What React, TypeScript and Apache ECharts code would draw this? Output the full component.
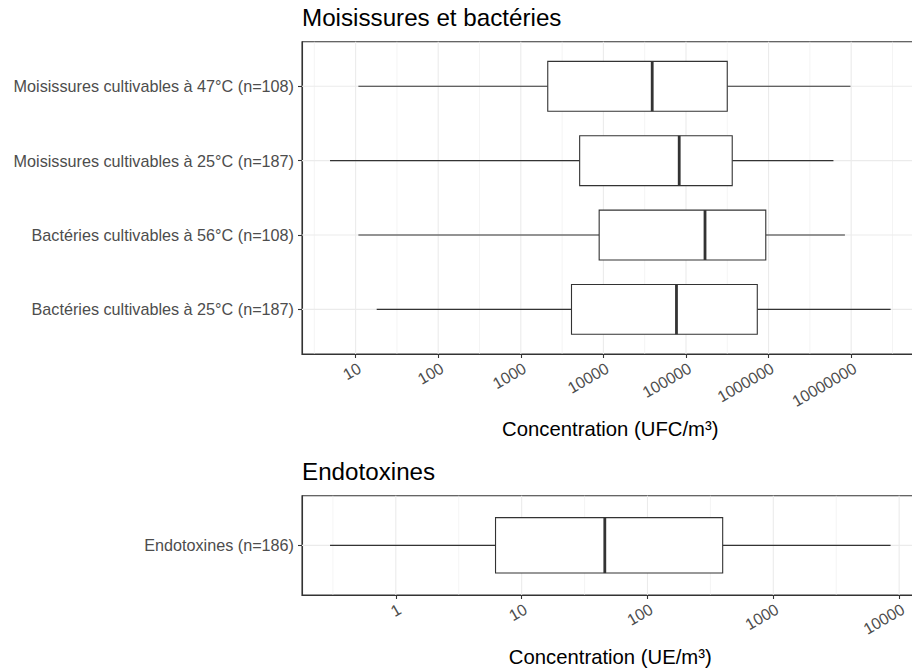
import React, { useEffect, useRef } from "react";
import * as echarts from "echarts";

// ---------- DATA ----------
const PANEL_TITLES = ["Moisissures et bactéries", "Endotoxines"];
const AXIS_TITLES = ["Concentration (UFC/m³)", "Concentration (UE/m³)"];

const TOP_CATEGORIES = [
  "Moisissures cultivables à 47°C (n=108)",
  "Moisissures cultivables à 25°C (n=187)",
  "Bactéries cultivables à 56°C (n=108)",
  "Bactéries cultivables à 25°C (n=187)",
];
const TOP_MIN = [10.8, 4.9, 10.8, 18];
const TOP_Q1 = [2120, 5160, 8890, 4110];
const TOP_MEDIAN = [39000, 82800, 170000, 76700];
const TOP_Q3 = [316000, 363000, 925000, 730000];
const TOP_MAX = [9.8e6, 6.1e6, 8.4e6, 3.0e7];
const TOP_TICKS = [10, 100, 1000, 10000, 100000, 1000000, 10000000];

const BOTTOM_CATEGORIES = ["Endotoxines (n=186)"];
const BOTTOM_MIN = [0.3];
const BOTTOM_Q1 = [6.2];
const BOTTOM_MEDIAN = [45.8];
const BOTTOM_Q3 = [396];
const BOTTOM_MAX = [8550];
const BOTTOM_TICKS = [1, 10, 100, 1000, 10000];

// ---------- STYLE ----------
const FONT = "'Liberation Sans', Arial, Helvetica, sans-serif";
const DARK = "#333333";
const GRID = "#EBEBEB";
const LABEL = "#4D4D4D";
const BOX_WIDTH = 0.67;
const TITLE_SIZE = 24.2;
const AXIS_TITLE_SIZE = 20.3;
const Y_LABEL_SIZE = 16.2;
const X_LABEL_SIZE = 16;

const lg = Math.log10;
const expand = (lo: number, hi: number) => {
  const d = hi - lo;
  return [lo - d * 0.05, hi + d * 0.05];
};

function buildPanel(
  gi: number,
  cats: string[],
  mins: number[],
  q1s: number[],
  meds: number[],
  q3s: number[],
  maxs: number[],
  ticks: number[],
  axisTitle: string,
  nameGap: number
) {
  const xExt = expand(lg(Math.min(...mins)), lg(Math.max(...maxs)));
  const yExt = [-0.6, cats.length - 1 + 0.6];
  const tickLogs = ticks.map((t) => lg(t));
  const minorLogs = [...tickLogs.map((v) => v - 0.5), tickLogs[tickLogs.length - 1] + 0.5].filter(
    (v) => v > xExt[0] && v < xExt[1]
  );
  const catIdx = cats.map((_, i) => i);

  const xAxis = {
    type: "value",
    gridIndex: gi,
    min: xExt[0],
    max: xExt[1],
    axisLine: { show: true, onZero: false, lineStyle: { color: DARK, width: 1.1 } },
    axisTick: { show: true, customValues: tickLogs, length: 4, lineStyle: { color: DARK, width: 1.1 } },
    axisLabel: {
      show: true,
      customValues: tickLogs,
      rotate: 30,
      align: "right",
      verticalAlign: "top",
      margin: 6,
      fontSize: X_LABEL_SIZE,
      color: LABEL,
      fontFamily: FONT,
      formatter: (v: number) => {
        const t = ticks.find((tt) => Math.abs(lg(tt) - v) < 1e-6);
        return t === undefined ? "" : String(t);
      },
    },
    splitLine: { show: false },
    minorSplitLine: { show: false },
    name: axisTitle,
    nameLocation: "middle",
    nameGap,
    nameTextStyle: { fontSize: AXIS_TITLE_SIZE, color: "#000", fontFamily: FONT },
  };

  const yAxis = {
    type: "value",
    gridIndex: gi,
    min: yExt[0],
    max: yExt[1],
    inverse: true,
    axisLine: { show: true, onZero: false, lineStyle: { color: DARK, width: 1.1 } },
    axisTick: { show: true, customValues: catIdx, length: 4, lineStyle: { color: DARK, width: 1.1 } },
    axisLabel: {
      show: true,
      customValues: catIdx,
      margin: 8,
      fontSize: Y_LABEL_SIZE,
      color: LABEL,
      fontFamily: FONT,
      formatter: (v: number) => cats[Math.round(v)] ?? "",
    },
    splitLine: { show: false },
  };

  const vLine = (width: number, values: number[], name: string) => ({
    type: "custom",
    name,
    xAxisIndex: gi,
    yAxisIndex: gi,
    silent: true,
    z: 1,
    encode: { x: 0, y: 1 },
    data: values.map((v) => [v, 0]),
    renderItem: (_p: any, api: any) => {
      const a = api.coord([api.value(0), yExt[0]]);
      const b = api.coord([api.value(0), yExt[1]]);
      return {
        type: "line",
        shape: { x1: a[0], y1: a[1], x2: b[0], y2: b[1] },
        style: { stroke: GRID, lineWidth: width },
      };
    },
  });

  const hLine = {
    type: "custom",
    xAxisIndex: gi,
    yAxisIndex: gi,
    silent: true,
    z: 1,
    encode: { x: 0, y: 1 },
    data: catIdx.map((i) => [xExt[0], i]),
    renderItem: (_p: any, api: any) => {
      const a = api.coord([xExt[0], api.value(1)]);
      const b = api.coord([xExt[1], api.value(1)]);
      return {
        type: "line",
        shape: { x1: a[0], y1: a[1], x2: b[0], y2: b[1] },
        style: { stroke: GRID, lineWidth: 1.1 },
      };
    },
  };

  const boxes = {
    type: "custom",
    xAxisIndex: gi,
    yAxisIndex: gi,
    silent: true,
    z: 3,
    encode: { x: [1, 2, 3, 4, 5], y: 0 },
    data: cats.map((_, i) => [i, lg(mins[i]), lg(q1s[i]), lg(meds[i]), lg(q3s[i]), lg(maxs[i])]),
    renderItem: (_p: any, api: any) => {
      const pos = api.value(0);
      const pLo = api.coord([api.value(1), pos]);
      const pQ1 = api.coord([api.value(2), pos]);
      const pMed = api.coord([api.value(3), pos]);
      const pQ3 = api.coord([api.value(4), pos]);
      const pHi = api.coord([api.value(5), pos]);
      const h = api.size([0, BOX_WIDTH])[1];
      const top = pQ1[1] - h / 2;
      return {
        type: "group",
        children: [
          {
            type: "line",
            shape: { x1: pLo[0], y1: pLo[1], x2: pQ1[0], y2: pQ1[1] },
            style: { stroke: DARK, lineWidth: 1.1 },
          },
          {
            type: "line",
            shape: { x1: pQ3[0], y1: pQ3[1], x2: pHi[0], y2: pHi[1] },
            style: { stroke: DARK, lineWidth: 1.1 },
          },
          {
            type: "rect",
            shape: { x: pQ1[0], y: top, width: pQ3[0] - pQ1[0], height: h },
            style: { fill: "#fff", stroke: DARK, lineWidth: 1.1 },
          },
          {
            type: "line",
            shape: { x1: pMed[0], y1: top, x2: pMed[0], y2: top + h },
            style: { stroke: DARK, lineWidth: 2.8 },
          },
        ],
      };
    },
  };

  return {
    xAxis,
    yAxis,
    series: [vLine(0.55, minorLogs, "minor"), vLine(1.1, tickLogs, "major"), hLine, boxes],
  };
}

export default function App() {
  const ref = useRef<HTMLDivElement>(null);

  useEffect(() => {
    if (!ref.current) return;
    const chart = echarts.init(ref.current, undefined, { renderer: "svg" });

    const top = buildPanel(0, TOP_CATEGORIES, TOP_MIN, TOP_Q1, TOP_MEDIAN, TOP_Q3, TOP_MAX, TOP_TICKS, AXIS_TITLES[0], 64.7);
    const bot = buildPanel(
      1,
      BOTTOM_CATEGORIES,
      BOTTOM_MIN,
      BOTTOM_Q1,
      BOTTOM_MEDIAN,
      BOTTOM_Q3,
      BOTTOM_MAX,
      BOTTOM_TICKS,
      AXIS_TITLES[1],
      51.7
    );

    const gridBase = {
      left: 302,
      width: 616.6,
      show: true,
      borderColor: DARK,
      borderWidth: 1.1,
      backgroundColor: "transparent",
      containLabel: false,
      outerBoundsMode: "none",
    };

    chart.setOption({
      animation: false,
      backgroundColor: "#fff",
      textStyle: { fontFamily: FONT },
      title: [
        {
          text: PANEL_TITLES[0],
          left: 302,
          top: 5.4,
          padding: 0,
          textStyle: { fontSize: TITLE_SIZE, fontWeight: "normal", color: "#000", fontFamily: FONT },
        },
        {
          text: PANEL_TITLES[1],
          left: 302,
          top: 459.4,
          padding: 0,
          textStyle: { fontSize: TITLE_SIZE, fontWeight: "normal", color: "#000", fontFamily: FONT },
        },
      ],
      grid: [
        { ...gridBase, top: 41.7, height: 312.3 },
        { ...gridBase, top: 495.7, height: 99.3 },
      ],
      xAxis: [top.xAxis, bot.xAxis],
      yAxis: [top.yAxis, bot.yAxis],
      series: [...top.series, ...bot.series],
    });

    return () => chart.dispose();
  }, []);

  return (
    <div
      ref={ref}
      style={{ position: "absolute", left: 0, top: 0, width: 912, height: 671, overflow: "hidden" }}
    />
  );
}
